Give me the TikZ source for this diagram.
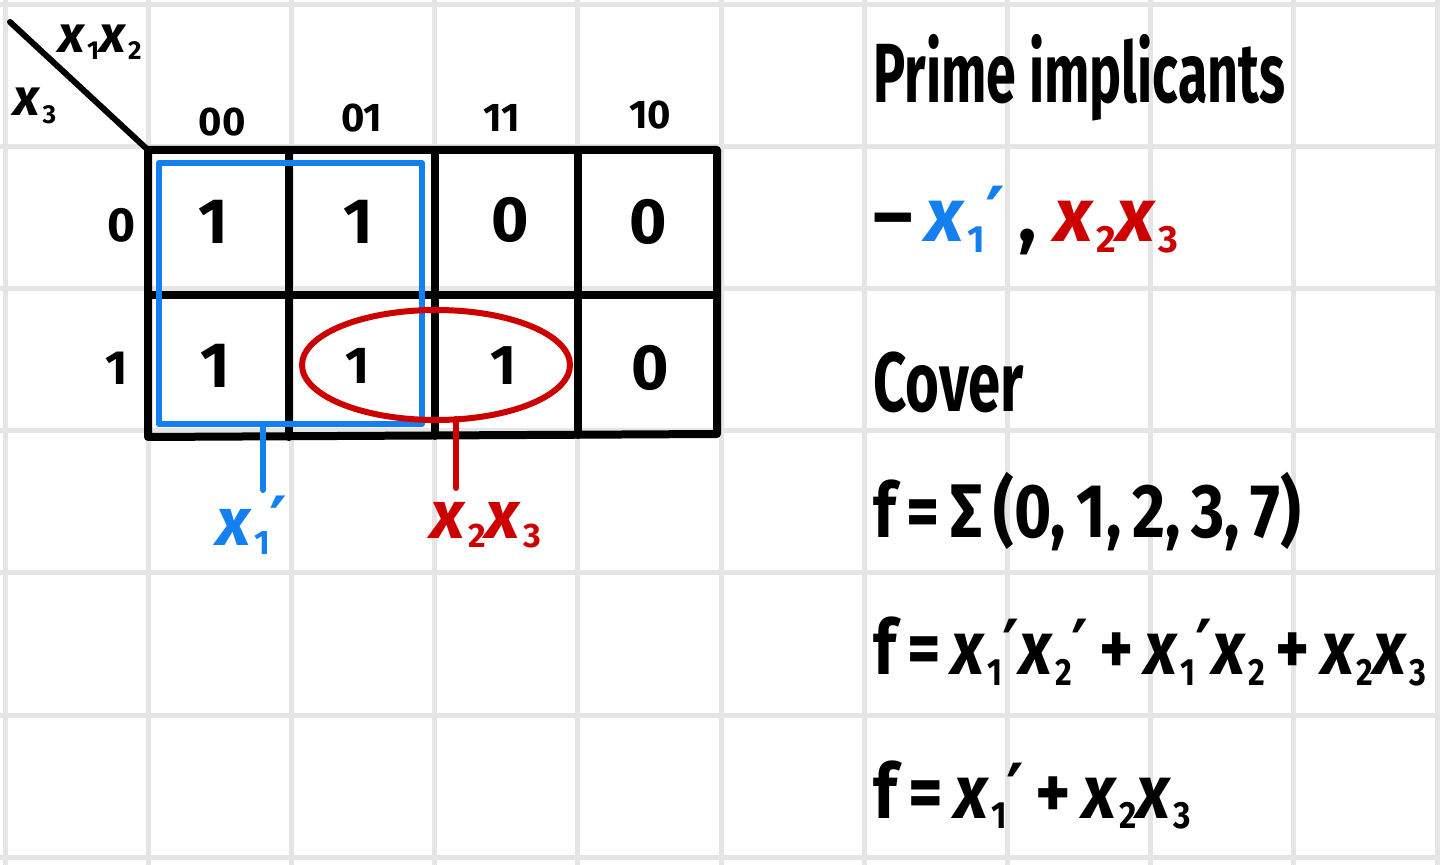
\documentclass[tikz,border=0pt]{standalone}
\usepackage{fontspec}
\newfontfamily\hand{Fira Sans}
\newfontfamily\handc{Fira Sans}[FakeStretch=0.64]
\newfontfamily\primefont{DejaVu Sans}
\definecolor{kblue}{RGB}{20,128,240}
\definecolor{kred}{RGB}{204,0,0}
\definecolor{gridgray}{RGB}{229,229,229}
\newcommand\vx[1]{{\hand\textit{x}}\kern0.03em\raisebox{-0.14em}{\scalebox{0.5}{#1}}}
\newcommand\pr{{\primefont ′}}
\begin{document}
\begin{tikzpicture}[x=0.5pt,y=-0.5pt,
  gridln/.style={draw=gridgray,line width=2.5pt},
  kline/.style={line width=4pt,line cap=round,line join=round},
  hdr/.style={font=\hand\bfseries\fontsize{20}{24}\selectfont,inner sep=0pt},
  cornerlbl/.style={font=\hand\bfseries\fontsize{26}{30}\selectfont,inner sep=0pt},
  cellv/.style={font=\hand\bfseries\fontsize{32}{36}\selectfont,inner sep=0pt},
  grplbl/.style={font=\hand\bfseries\fontsize{34}{38}\selectfont,inner sep=0pt},
  rtext/.style={font=\handc\bfseries\fontsize{42}{50}\selectfont,inner sep=0pt,anchor=base west},
  rform/.style={font=\hand\bfseries\fontsize{38}{46}\selectfont,inner sep=0pt,anchor=base west},
  bluegrp/.style={draw=kblue,line width=3pt,line join=round,line cap=round},
  redgrp/.style={draw=kred,line width=3pt,line cap=round}
]
\useasboundingbox (0,0) rectangle (1440,865);
\fill[white] (0,0) rectangle (1440,865);
% background grid paper
\foreach \i in {0,...,10} \draw[gridln] ({5+143.2*\i},0) -- ({5+143.2*\i},865);
\foreach \j in {0,...,6} \draw[gridln] (0,{5+142*\j}) -- (1440,{5+142*\j});

% K-map frame
\coordinate (kTL) at (148,150);
\coordinate (kTR) at (717,150);
\coordinate (kBR) at (717,434);
\coordinate (kBL) at (148,437);
\draw[kline] (kTL) -- (kTR) -- (kBR) -- (kBL) -- cycle;
\draw[kline] (148,295) -- (717,295);
\draw[kline] (289,150) -- (289,437);
\draw[kline] (435,150) -- (435,436);
\draw[kline] (578,150) -- (578,435);
% corner diagonal
\coordinate (dg) at (10,22);
\draw[kline,line width=3pt] (dg) -- (kTL);
\node[cornerlbl] (lx12) at (100,42) {\vx{1}\vx{2}};
\node[cornerlbl] (lx3) at (35,106) {\vx{3}};

% headers
\node[hdr] (h00) at (222,122) {00};
\node[hdr] (h01) at (362,118) {01};
\node[hdr] (h11) at (502,118) {11};
\node[hdr] (h10) at (650,115) {10};
\node[hdr,font=\hand\bfseries\fontsize{24}{28}\selectfont] (r0) at (122,225) {0};
\node[hdr,font=\hand\bfseries\fontsize{24}{28}\selectfont] (r1) at (117,368) {1};

% cells
\node[cellv] (c00) at (213,222) {1};
\node[cellv] (c01) at (358,222) {1};
\node[cellv] (c02) at (510,220) {0};
\node[cellv] (c03) at (648,222) {0};
\node[cellv] (c10) at (215,366) {1};
\node[cellv,font=\hand\bfseries\fontsize{26}{30}\selectfont] (c11) at (358,366) {1};
\node[cellv,font=\hand\bfseries\fontsize{28}{32}\selectfont] (c12) at (503,366) {1};
\node[cellv] (c13) at (650,368) {0};

% groups
\draw[bluegrp] (159,163) rectangle (422,424);
\coordinate (bs1) at (263,424);
\coordinate (bs2) at (263,490);
\draw[bluegrp] (bs1) -- (bs2);
\node[grplbl,text=kblue] (gA) at (252,525) {\vx{1}\pr};

\draw[redgrp] (436,365) ellipse [x radius=67pt, y radius=27.5pt];
\coordinate (rs1) at (456,419);
\coordinate (rs2) at (456,488);
\draw[redgrp] (rs1) -- (rs2);
\node[grplbl,text=kred] (gB) at (486,525) {\vx{2}\vx{3}};

% right-hand notes
\node[rtext] (t1) at (873,103) {Prime implicants};
\node[rform] (t2) at (873,242) {–\,\textcolor{kblue}{\vx{1}\pr}\,, \textcolor{kred}{\vx{2}\vx{3}}};
\node[rtext] (t3) at (873,412) {\scalebox{1.08}[1]{Cover}};
\node[rform] (t4) at (873,538) {\scalebox{0.84}[1]{f\,=\,Σ\,(0,\,1,\,2,\,3,\,7)}};
\node[rform] (t5) at (873,675) {\scalebox{0.85}[1]{f\,=\,\vx{1}\pr\vx{2}\pr\,+\,\vx{1}\pr\vx{2}\,+\,\vx{2}\vx{3}}};
\node[rform] (t6) at (873,818) {\scalebox{0.88}[1]{f\,=\,\vx{1}\pr\,+\,\vx{2}\vx{3}}};
\end{tikzpicture}
\end{document}
